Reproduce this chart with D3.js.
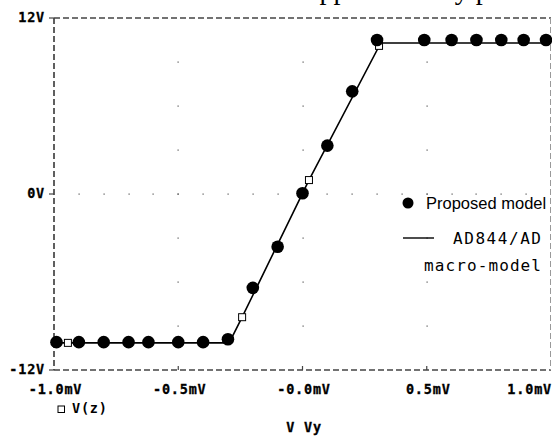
<!DOCTYPE html>
<html>
<head>
<meta charset="utf-8">
<script src="https://cdn.jsdelivr.net/npm/d3@7"></script>
<style>
  body { margin: 0; background: #fff; }
  svg { display: block; }
  .tickLabel { font-family: "DejaVu Sans Mono", monospace; font-weight: bold; font-size: 13.5px; letter-spacing: 0.8px; fill: #000; stroke: #000; stroke-width: 0.3px; }
  .legendText { font-family: "Liberation Sans", Arial, sans-serif; font-size: 16.5px; fill: #000; }
  .legendMono { font-family: "DejaVu Sans Mono", monospace; font-size: 16px; fill: #000; }
</style>
</head>
<body>
<div id="chart"></div>
<script>
// Proposed model (filled circles)
const propX = [-0.99, -0.9, -0.8, -0.7, -0.62, -0.5, -0.4, -0.3, -0.2, -0.1, 0.0, 0.1, 0.2, 0.3, 0.49, 0.6, 0.7, 0.8, 0.89, 0.98];
const propY = [-10.1, -10.1, -10.1, -10.1, -10.1, -10.1, -10.1, -9.9, -6.4, -3.6, 0.05, 3.3, 7.0, 10.5, 10.5, 10.5, 10.5, 10.5, 10.5, 10.5];

// AD844/AD macro-model trace V(z)
const macroX = [-1.0, -0.295, -0.243, 0.026, 0.315, 1.0];
const macroY = [-10.15, -10.15, -8.4, 0.95, 10.3, 10.3];

// trace markers (open squares)
const markX = [-0.944, -0.243, 0.026, 0.308];
const markY = [-10.15, -8.4, 0.95, 10.1];

const xTicks = [-1.0, -0.5, 0.0, 0.5, 1.0];
const xTickLabels = ["-1.0mV", "-0.5mV", "-0.0mV", "0.5mV", "1.0mV"];
const yTicks = [12, 0, -12];
const yTickLabels = ["12V", "0V", "-12V"];

const width = 552, height = 436;
const margin = {top: 18, right: 1, bottom: 66, left: 54};

const svg = d3.select("#chart").append("svg")
    .attr("width", width)
    .attr("height", height);

const x = d3.scaleLinear().domain([-1, 1]).range([margin.left, width - margin.right]);
const y = d3.scaleLinear().domain([-12, 12]).range([height - margin.bottom, margin.top]);

// clipped line of text from the page above the figure
svg.append("text")
    .attr("x", 307)
    .attr("y", -1)
    .style("font-family", "'Liberation Serif', 'Times New Roman', serif")
    .style("font-size", "28px")
    .text("approximately p");

// dotted grid
const gridDots = [];
[-0.5, 0, 0.5].forEach(gx => {
  d3.range(-9, 10, 3).forEach(gy => gridDots.push([gx, gy]));
});
d3.range(-0.9, 1.0, 0.1).forEach(gx => gridDots.push([gx, 0]));

svg.selectAll("rect.grid")
  .data(gridDots)
    .enter()
  .append("rect")
    .attr("class", "grid")
    .attr("x", d => Math.round(x(d[0])) - 0.5)
    .attr("y", d => Math.round(y(d[1])) - 0.5)
    .attr("width", 1.2)
    .attr("height", 1.2)
    .attr("fill", "#555");

// dashed frame
const frame = svg.append("g").attr("stroke-dasharray", "6,3").attr("fill", "none");
frame.append("line")
    .attr("x1", x(-1)).attr("x2", x(1)).attr("y1", y(12)).attr("y2", y(12))
    .attr("stroke", "#444").attr("stroke-width", 1.7);
frame.append("line")
    .attr("x1", x(-1)).attr("x2", x(1)).attr("y1", y(-12)).attr("y2", y(-12))
    .attr("stroke", "#444").attr("stroke-width", 1.7);
frame.append("line")
    .attr("x1", x(-1)).attr("x2", x(-1)).attr("y1", y(12)).attr("y2", y(-12))
    .attr("stroke", "#444").attr("stroke-width", 1.7);
frame.append("line")
    .attr("x1", x(1) - 0.5).attr("x2", x(1) - 0.5).attr("y1", y(12)).attr("y2", y(-12))
    .attr("stroke", "#999").attr("stroke-width", 1);

// tick marks
svg.selectAll("line.ytick")
  .data(yTicks)
    .enter()
  .append("line")
    .attr("class", "ytick")
    .attr("x1", x(-1) - 5).attr("x2", x(-1))
    .attr("y1", d => y(d)).attr("y2", d => y(d))
    .attr("stroke", "#444").attr("stroke-width", 1.2);

svg.selectAll("line.xtick")
  .data(xTicks.slice(1, -1))
    .enter()
  .append("line")
    .attr("class", "xtick")
    .attr("x1", d => x(d)).attr("x2", d => x(d))
    .attr("y1", y(-12)).attr("y2", y(-12) - 4)
    .attr("stroke", "#444").attr("stroke-width", 1.2);

// tick labels
svg.selectAll("text.ylab")
  .data(yTicks)
    .enter()
  .append("text")
    .attr("class", "tickLabel ylab")
    .attr("x", 45)
    .attr("y", d => y(d) + 4)
    .attr("text-anchor", "end")
    .text((d, i) => yTickLabels[i]);

svg.selectAll("text.xlab")
  .data(xTicks)
    .enter()
  .append("text")
    .attr("class", "tickLabel xlab")
    .attr("x", (d, i) => i === xTicks.length - 1 ? width : x(d) + 1.5)
    .attr("y", 394)
    .attr("text-anchor", (d, i) => i === xTicks.length - 1 ? "end" : "middle")
    .text((d, i) => xTickLabels[i]);

// trace name and x axis name
svg.append("rect")
    .attr("x", 58).attr("y", 406).attr("width", 6.5).attr("height", 6.5)
    .attr("fill", "#fff").attr("stroke", "#000").attr("stroke-width", 1);
svg.append("text")
    .attr("class", "tickLabel")
    .attr("x", 72).attr("y", 413)
    .style("stroke-width", "0px")
    .text("V(z)");
svg.append("text")
    .attr("class", "tickLabel")
    .attr("x", 304).attr("y", 432)
    .attr("text-anchor", "middle")
    .text("V Vy");

// macro-model trace
const macro = macroX.map((d, i) => [d, macroY[i]]);
svg.append("path")
    .datum(macro)
    .attr("fill", "none")
    .attr("stroke", "#000")
    .attr("stroke-width", 1.6)
    .attr("d", d3.line().x(d => x(d[0])).y(d => y(d[1])));

const marks = markX.map((d, i) => [d, markY[i]]);
svg.selectAll("rect.mark")
  .data(marks)
    .enter()
  .append("rect")
    .attr("class", "mark")
    .attr("x", d => x(d[0]) - 3.5)
    .attr("y", d => y(d[1]) - 3.5)
    .attr("width", 7).attr("height", 7)
    .attr("fill", "#fff").attr("stroke", "#000").attr("stroke-width", 1);

// proposed model points
const prop = propX.map((d, i) => [d, propY[i]]);
svg.selectAll("circle.prop")
  .data(prop)
    .enter()
  .append("circle")
    .attr("class", "prop")
    .attr("cx", d => x(d[0]))
    .attr("cy", d => y(d[1]))
    .attr("r", 6.3)
    .attr("fill", "#000");

// legend
const legend = svg.append("g").attr("id", "legend");
legend.append("circle")
    .attr("cx", 408).attr("cy", 203).attr("r", 5.5).attr("fill", "#000");
legend.append("text")
    .attr("class", "legendText")
    .attr("x", 426).attr("y", 209)
    .text("Proposed model");
legend.append("line")
    .attr("x1", 403).attr("x2", 434).attr("y1", 238).attr("y2", 238)
    .attr("stroke", "#000").attr("stroke-width", 1.4);
legend.append("text")
    .attr("class", "legendMono")
    .attr("x", 541).attr("y", 244)
    .attr("text-anchor", "end")
    .attr("textLength", 88)
    .text("AD844/AD");
legend.append("text")
    .attr("class", "legendMono")
    .attr("x", 541).attr("y", 271)
    .attr("text-anchor", "end")
    .attr("textLength", 117)
    .text("macro-model");
</script>
</body>
</html>
